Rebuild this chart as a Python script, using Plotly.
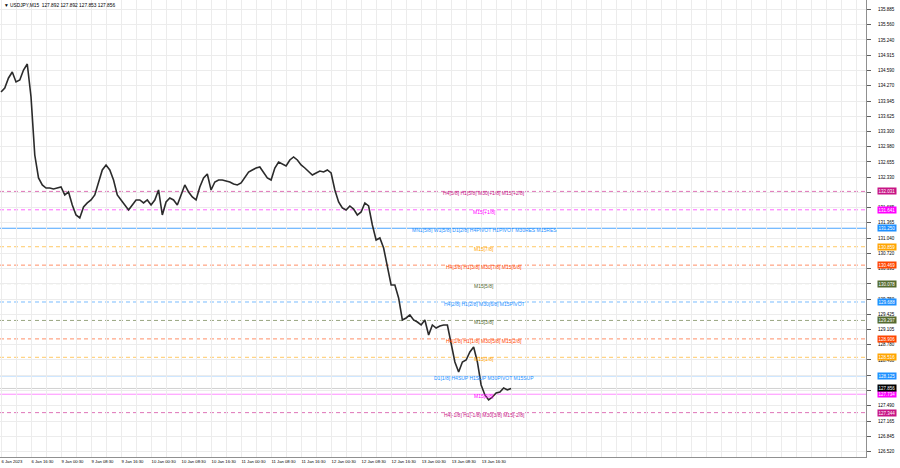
import plotly.graph_objects as go

# ---------------- data ----------------
symbol_title = "\u25bc USDJPY,M15  127.892 127.892 127.853 127.856"

# hourly closes (start 6 Jan 2023 08:30, trading hours)
closes = [
    134.137, 134.222, 134.434, 134.561, 134.349, 134.391, 134.603, 134.730, 134.031, 132.802,
    132.315, 132.167, 132.103, 132.103, 132.082, 132.103, 132.125, 131.955, 132.019, 131.743,
    131.531, 131.468, 131.701, 131.786, 131.849, 131.955, 132.209, 132.485, 132.591, 132.485,
    132.273, 131.955, 131.849, 131.743, 131.637, 131.743, 131.849, 131.849, 131.786, 131.849,
    131.743, 131.849, 132.061, 131.531, 131.807, 131.891, 131.849, 131.743, 131.955, 132.167,
    132.019, 131.913, 131.849, 132.125, 132.315, 132.400, 132.061, 132.230, 132.273, 132.273,
    132.252, 132.230, 132.188, 132.167, 132.209, 132.315, 132.442, 132.485, 132.527, 132.548,
    132.442, 132.315, 132.273, 132.527, 132.654, 132.612, 132.569, 132.697, 132.760, 132.697,
    132.591, 132.527, 132.442, 132.379, 132.421, 132.463, 132.442, 132.485, 132.421, 132.061,
    131.807, 131.680, 131.637, 131.722, 131.658, 131.531, 131.595, 131.786, 131.722, 131.319,
    131.002, 131.044, 130.832, 130.472, 130.048, 130.048, 129.773, 129.307, 129.349, 129.413,
    129.307, 129.264, 129.201, 129.307, 128.989, 129.201, 129.137, 129.180, 129.201, 129.201,
    128.841, 128.417, 128.205, 128.417, 128.459, 128.629, 128.735, 128.417, 127.930, 127.718,
    127.612, 127.675, 127.760, 127.781, 127.866, 127.824, 127.856,
]

x_tick_labels = [
    "6 Jan 2023", "6 Jan 16:30", "9 Jan 00:30", "9 Jan 08:30", "9 Jan 16:30",
    "10 Jan 00:30", "10 Jan 08:30", "10 Jan 16:30", "11 Jan 00:30", "11 Jan 08:30",
    "11 Jan 16:30", "12 Jan 00:30", "12 Jan 08:30", "12 Jan 16:30", "13 Jan 00:30",
    "13 Jan 08:30", "13 Jan 16:30",
]

price_ticks = [
    135.885, 135.560, 135.240, 134.915, 134.590, 134.270, 133.945, 133.625, 133.300, 132.980,
    132.655, 132.330, 132.005, 131.685, 131.365, 131.040, 130.720, 130.395, 130.075, 129.750,
    129.425, 129.105, 128.780, 128.460, 128.135, 127.810, 127.490, 127.165, 126.845, 126.520,
]

level_prices = [132.031, 131.641, 131.250, 130.859, 130.469, 130.078, 129.688,
                129.297, 128.906, 128.516, 128.125, 127.734, 127.344]
level_texts = [
    "H4[5/8] H1[5/8] M30[+1/8] M15[+2/8]",
    "M15[+1/8]",
    "MN1[5/8] W1[5/8] D1[2/8] H4PIVOT H1PIVOT M30RES M15RES",
    "M15[7/8]",
    "H4[3/8] H1[3/8] M30[7/8] M15[6/8]",
    "M15[5/8]",
    "H4[2/8] H1[2/8] M30[6/8] M15PIVOT",
    "M15[3/8]",
    "H4[1/8] H1[1/8] M30[5/8] M15[2/8]",
    "M15[1/8]",
    "D1[1/8] H4SUP H1SUP M30PIVOT M15SUP",
    "M15[0/8]",
    "H4[-1/8] H1[-1/8] M30[3/8] M15[-2/8]",
]
level_colors = ["#c71585", "#ff00ff", "#1e90ff", "#ffa500", "#ff4500", "#556b2f", "#1e90ff",
                "#556b2f", "#ff4500", "#ffa500", "#1e90ff", "#ff00ff", "#c71585"]
level_solid = [False, False, True, False, False, False, False,
               False, False, False, True, True, False]

bid_price = 127.856

# ---------------- figure ----------------
def rgba(hexc, a):
    h = hexc.lstrip("#")
    r, g, b = int(h[0:2], 16), int(h[2:4], 16), int(h[4:6], 16)
    return f"rgba({r},{g},{b},{a})"

hours = list(range(len(closes)))
x_max = 230.6
grid_vals = list(range(0, 232, 4))
grid_text = []
for v in grid_vals:
    if v % 8 == 0 and v // 8 < len(x_tick_labels):
        grid_text.append(x_tick_labels[v // 8])
    else:
        grid_text.append("")

fig = go.Figure()

shapes = []
annotations = []
for p, t, c, solid in zip(level_prices, level_texts, level_colors, level_solid):
    alpha = 0.6
    if solid:
        alpha = 0.45 if c == "#ff00ff" else 0.8
    shapes.append(dict(type="line", xref="paper", x0=0, x1=1, yref="y", y0=p, y1=p,
                       line=dict(color=rgba(c, alpha), width=1,
                                 dash="solid" if solid else "4px,3px"),
                       layer="below"))
    annotations.append(dict(x=128.8, y=p, xref="x", yref="y", text=t, showarrow=False,
                            xanchor="center", yanchor="middle", yshift=-2,
                            font=dict(family="Liberation Sans", size=5, color=c)))
    annotations.append(dict(x=1, y=p, xref="paper", yref="y", text=f"{p:.3f}", showarrow=False,
                            xanchor="left", yanchor="middle", xshift=11, bgcolor=c,
                            borderpad=0.5,
                            font=dict(family="Liberation Sans", size=4.5, color="white")))

shapes.append(dict(type="line", xref="paper", x0=0, x1=1, yref="y", y0=bid_price, y1=bid_price,
                   line=dict(color="#d0d0d0", width=1), layer="below"))
annotations.append(dict(x=1, y=bid_price, xref="paper", yref="y", text=f"{bid_price:.3f}",
                        showarrow=False, xanchor="left", yanchor="middle", xshift=11,
                        bgcolor="#000000", borderpad=0.5,
                        font=dict(family="Liberation Sans", size=4.5, color="white")))

annotations.append(dict(x=0, y=1, xref="paper", yref="paper", text=symbol_title, showarrow=False,
                        xanchor="left", yanchor="top", xshift=2, yshift=-1,
                        font=dict(family="Liberation Sans", size=4.8, color="#000000")))

fig.add_trace(go.Scatter(x=hours, y=closes, mode="lines",
                         line=dict(color="#2b2b2b", width=1.6), hoverinfo="skip"))

fig.update_layout(
    width=900, height=468,
    margin=dict(l=0, r=34, t=0, b=11, autoexpand=False),
    paper_bgcolor="white", plot_bgcolor="white",
    showlegend=False,
    shapes=shapes, annotations=annotations,
    xaxis=dict(range=[-0.27, x_max], tickmode="array", tickvals=grid_vals, ticktext=grid_text,
               showgrid=True, gridcolor="#ececec", gridwidth=1, zeroline=False,
               showline=True, linecolor="#909090", linewidth=1, mirror=True,
               ticks="", ticklabelposition="outside right", tickangle=0, automargin=False,
               tickfont=dict(family="Liberation Sans", size=4.2, color="#000000")),
    yaxis=dict(range=[126.404, 136.086], side="right", tickmode="array", tickvals=price_ticks,
               ticktext=[f"{v:.3f}" for v in price_ticks], automargin=False,
               showgrid=True, gridcolor="#ececec", gridwidth=1, zeroline=False,
               showline=True, linecolor="#909090", linewidth=1, mirror=True,
               ticks="outside", ticklen=4, tickcolor="#606060", ticklabelstandoff=6,
               tickfont=dict(family="Liberation Sans", size=4.5, color="#000000")),
)

fig.write_html("out.html", config={"displayModeBar": False},
               post_script="document.body.style.margin='0';document.body.style.overflow='hidden';")
